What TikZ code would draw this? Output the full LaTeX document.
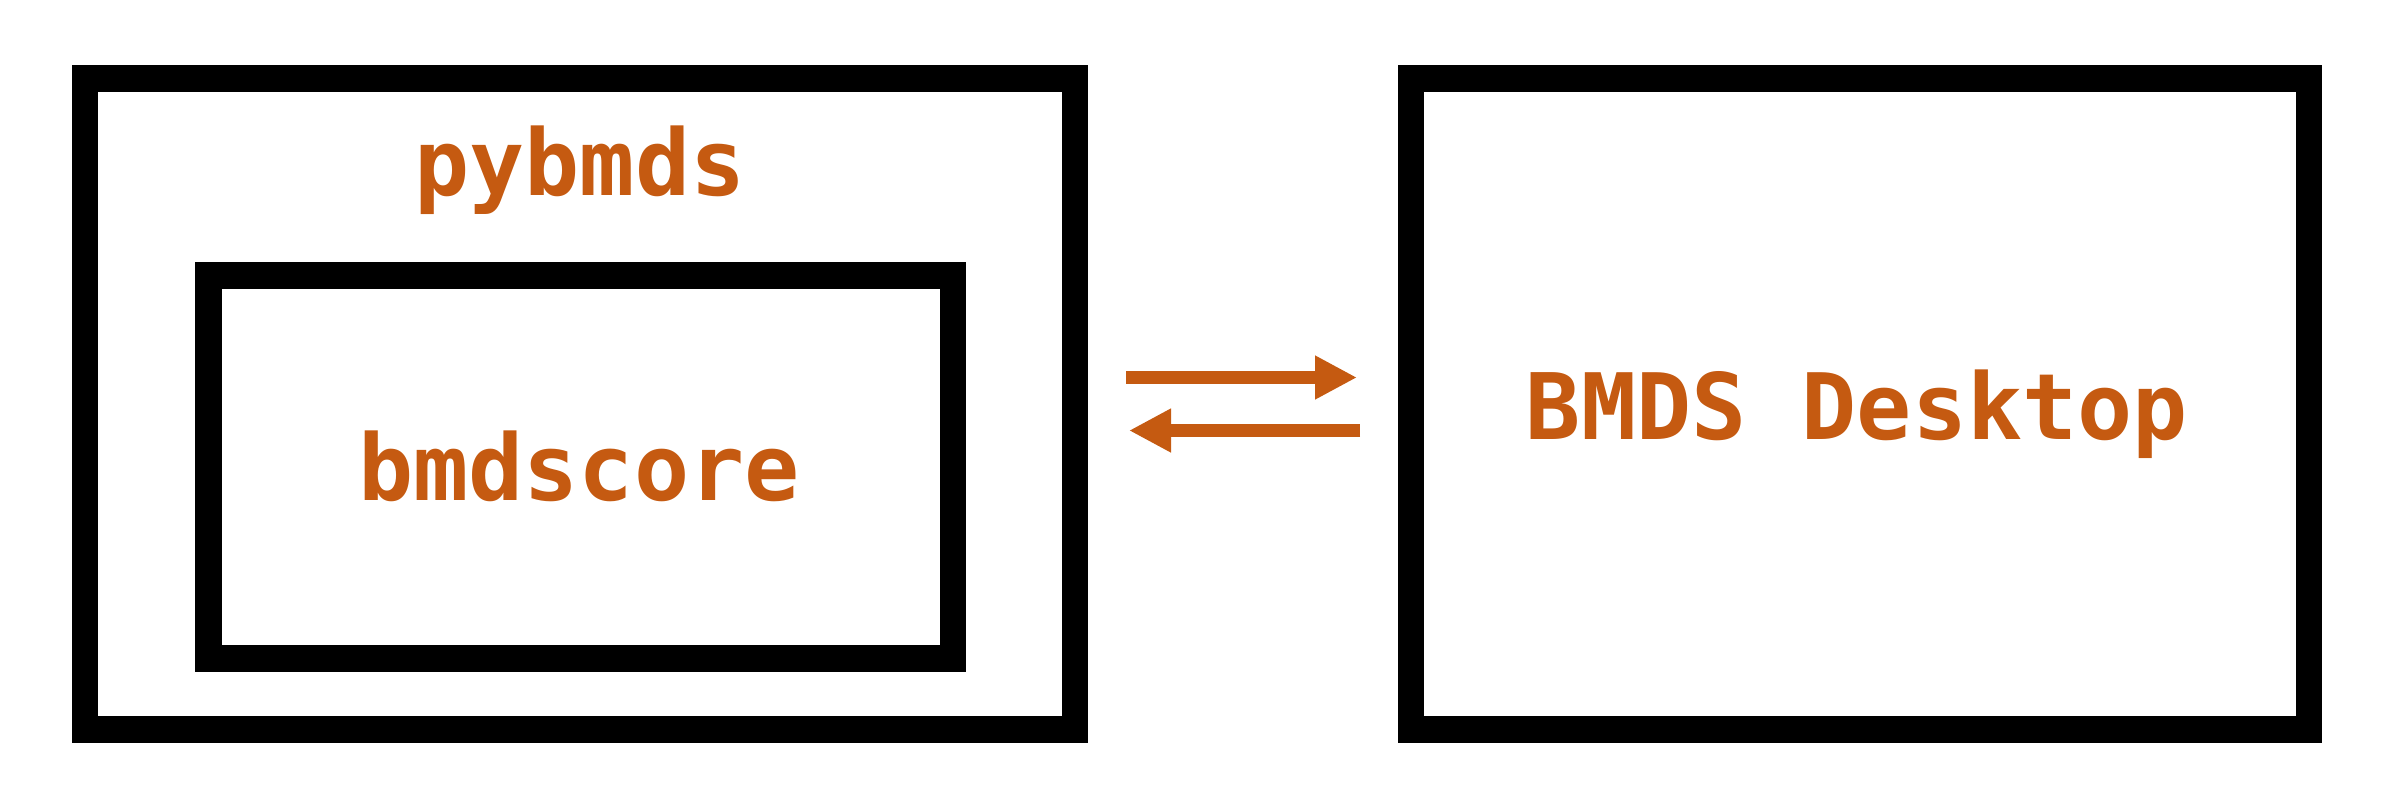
\documentclass[tikz,border=0pt]{standalone}
\usepackage{fontspec}
\newfontfamily\monob{DejaVu Sans Mono}[BoldFont={DejaVu Sans Mono Bold}]
\usetikzlibrary{arrows.meta}
\definecolor{accent}{HTML}{C55A11}
\begin{document}
\begin{tikzpicture}[x=0.3pt,y=-0.3pt,
  frame/.style={draw=black, line width=8pt, rectangle, inner sep=0pt, outer sep=0pt},
  lbl/.style={text=accent, font=\monob\bfseries\fontsize{27.5pt}{32pt}\selectfont, anchor=base, inner sep=0pt},
  flow/.style={draw=accent, line width=4.1pt, -{Triangle[length=12.6pt,width=12.3pt]}}]
\useasboundingbox (0,0) rectangle (2397,806);
\node[frame, minimum width=297pt, minimum height=195.3pt] (pyframe) at (580,404.2) {};
\node[frame, minimum width=223.4pt, minimum height=114.9pt] (coreframe) at (580.7,467.2) {};
\node[frame, minimum width=269.4pt, minimum height=195.3pt] (deskframe) at (1860,404.2) {};
\node[lbl] (pylbl) at (580,195) {pybmds};
\node[lbl] (corelbl) at (579,500.7) {bmdscore};
\node[lbl] (desklbl) at (1857,439) {BMDS Desktop};
\coordinate (a1s) at (1126,377.5);
\coordinate (a1e) at (1357,377.5);
\coordinate (a2s) at (1360,430.5);
\coordinate (a2e) at (1129,430.5);
\draw[flow] (a1s) -- (a1e);
\draw[flow] (a2s) -- (a2e);
\end{tikzpicture}
\end{document}
